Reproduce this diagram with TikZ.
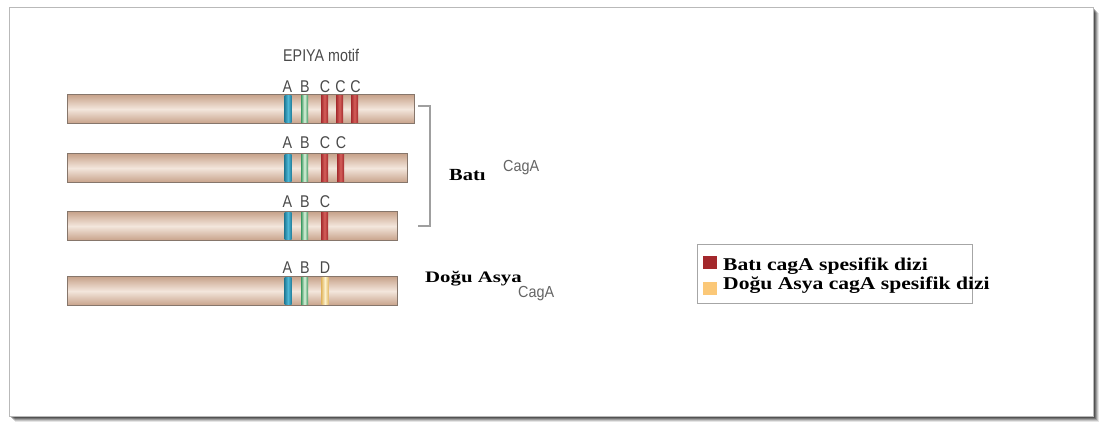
\documentclass[tikz,border=0pt]{standalone}
\usepackage{fontspec}
\setmainfont{Liberation Serif}
\setsansfont{Liberation Sans}
\definecolor{barmid}{HTML}{F3E6DC}
\definecolor{baredge}{HTML}{C7A28A}
\definecolor{barline}{HTML}{86766B}
\definecolor{aedge}{HTML}{237E9A}
\definecolor{amid}{HTML}{4DB8D6}
\definecolor{bedge}{HTML}{3C9A62}
\definecolor{bmid}{HTML}{DDF2DC}
\definecolor{cedge}{HTML}{A42A2D}
\definecolor{cmid}{HTML}{D45E59}
\definecolor{dedge}{HTML}{E3BA68}
\definecolor{dmid}{HTML}{FCF1CC}
\definecolor{legred}{HTML}{A3282C}
\definecolor{legyel}{HTML}{FBC878}
\definecolor{labgray}{HTML}{4A4A4A}
\newcommand{\sanslab}[2][0.84]{\scalebox{#1}[1]{\sffamily #2}}
\newcommand{\seriflab}[2][1.2]{\scalebox{#1}[1]{\bfseries #2}}
\begin{document}
\begin{tikzpicture}[x=1pt,y=-1pt,
  bar/.style={draw=barline, line width=1.1pt, inner sep=0pt, anchor=north west,
    minimum height=29pt, top color=baredge, bottom color=baredge, middle color=barmid},
  stripe/.style={inner sep=0pt, minimum width=7pt, minimum height=27pt},
  stripeA/.style={stripe, left color=aedge, right color=aedge, middle color=amid},
  stripeB/.style={stripe, left color=bedge, right color=bedge, middle color=bmid},
  stripeC/.style={stripe, left color=cedge, right color=cedge, middle color=cmid},
  stripeD/.style={stripe, left color=dedge, right color=dedge, middle color=dmid},
  motif/.style={inner sep=0pt, anchor=base, text=labgray, font=\fontsize{17}{17}\selectfont},
  title/.style={inner sep=0pt, anchor=base west, font=\fontsize{17}{17}\selectfont},
  cag/.style={inner sep=0pt, anchor=base west, text=labgray!85, font=\fontsize{16}{16}\selectfont},
  bracket/.style={draw=gray!75, line width=1.4pt},
  legtext/.style={inner sep=0pt, anchor=base west, font=\fontsize{18}{18}\selectfont},
  legsq/.style={inner sep=0pt, minimum width=14pt, minimum height=13pt, anchor=north west}
]
\useasboundingbox (0,0) rectangle (1101,424);

% page frame with soft drop shadow
\foreach \o/\op in {6/0.10,5/0.15,4/0.2,3/0.25,2/0.3}
  \fill[black, opacity=\op] (9+\o,7+\o) rectangle (1093+\o,416+\o);
\fill[white] (9,7) rectangle (1093,416);
\draw[gray!55, line width=0.8pt] (9,7) rectangle (1093,416);

% title
\node[inner sep=0pt, anchor=base west, text=labgray, font=\fontsize{17}{17}\selectfont]
  (motiftitle) at (283,61) {\sanslab{EPIYA motif}};

% CagA bars
\node[bar, minimum width=347pt] (bar1) at (67,94) {};
\node[bar, minimum width=340pt] (bar2) at (67,153) {};
\node[bar, minimum width=330pt] (bar3) at (67,211) {};
\node[bar, minimum width=330pt] (bar4) at (67,276) {};

% EPIYA segments on each bar
\foreach \b in {1,2,3,4}{
  \node[stripeA] (a\b) at (288,{0} |- bar\b.center) {};
  \node[stripeB] (b\b) at (304.5,{0} |- bar\b.center) {};
}
\node[stripeC] (c11) at (324.5,{0} |- bar1.center) {};
\node[stripeC] (c12) at (339.5,{0} |- bar1.center) {};
\node[stripeC] (c13) at (354.5,{0} |- bar1.center) {};
\node[stripeC] (c21) at (324.5,{0} |- bar2.center) {};
\node[stripeC] (c22) at (340.5,{0} |- bar2.center) {};
\node[stripeC] (c31) at (324.5,{0} |- bar3.center) {};
\node[stripeD] (d41) at (325,{0} |- bar4.center) {};

% segment letters
\node[motif] (la1) at (287.5,92) {\sanslab{A}};
\node[motif] (lb1) at (305,92) {\sanslab{B}};
\node[motif] (lc11) at (325,92) {\sanslab{C}};
\node[motif] (lc12) at (340.5,92) {\sanslab{C}};
\node[motif] (lc13) at (355.5,92) {\sanslab{C}};
\node[motif] (la2) at (287.5,148) {\sanslab{A}};
\node[motif] (lb2) at (305,148) {\sanslab{B}};
\node[motif] (lc21) at (325,148) {\sanslab{C}};
\node[motif] (lc22) at (341,148) {\sanslab{C}};
\node[motif] (la3) at (287.5,207) {\sanslab{A}};
\node[motif] (lb3) at (305,207) {\sanslab{B}};
\node[motif] (lc31) at (325,207) {\sanslab{C}};
\node[motif] (la4) at (287.5,273) {\sanslab{A}};
\node[motif] (lb4) at (305,273) {\sanslab{B}};
\node[motif] (ld41) at (325,273) {\sanslab{D}};

% bracket grouping the Western types
\coordinate (brtop) at (418,106);
\coordinate (brbot) at (418,226);
\draw[bracket] (brtop) -- ++(12,0) |- (brbot);

% group labels
\node[title] (bati) at (449,180) {\seriflab{Batı}};
\node[cag] (cag1) at (503,171) {\sanslab[0.9]{CagA}};
\node[title, font=\fontsize{16}{16}\selectfont] (dogu) at (425,282) {\seriflab[1.3]{Doğu Asya}};
\node[cag] (cag2) at (518,297) {\sanslab[0.9]{CagA}};

% legend
\draw[gray!70, line width=1pt] (697,244) rectangle (972,303);
\node[legsq, fill=legred] (sqred) at (703,256) {};
\node[legsq, fill=legyel] (sqyel) at (703,282) {};
\node[legtext] (legw) at (723,270) {\seriflab{Batı cagA spesifik dizi}};
\node[legtext] (lege) at (723,289) {\seriflab{Doğu Asya cagA spesifik dizi}};
\end{tikzpicture}
\end{document}
